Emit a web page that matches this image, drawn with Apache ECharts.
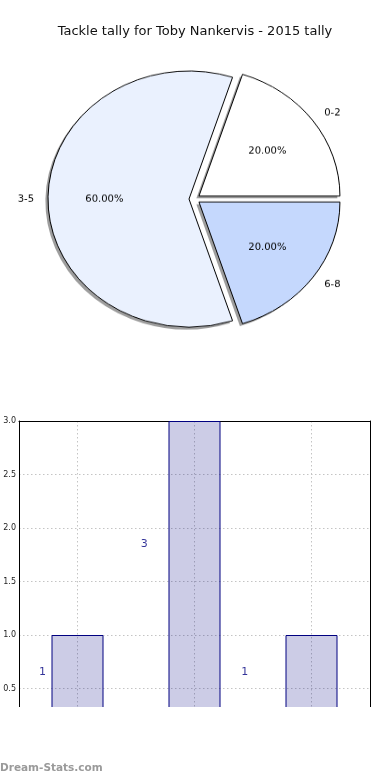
<!DOCTYPE html>
<html><head><meta charset="utf-8">
<script src="https://cdn.jsdelivr.net/npm/echarts@6/dist/echarts.min.js"></script>
<style>
html,body{margin:0;padding:0;background:#fff;}
#wrap{position:relative;width:390px;height:780px;overflow:hidden;}
#barwrap{position:absolute;left:0;top:0;width:390px;height:707px;overflow:hidden;}
#main{position:absolute;left:0;top:0;width:390px;height:780px;}
#pie{position:absolute;left:0;top:0;width:390px;height:400px;transform:scaleY(0.908);transform-origin:195px 199px;}
#wm{position:absolute;left:0;top:750px;width:390px;height:30px;}
</style></head>
<body><div id="wrap"><div id="barwrap"><div id="main"></div></div><div id="pie"></div><div id="wm"></div></div>
<script>
const titleText = 'Tackle tally for Toby Nankervis - 2015 tally';
const categories = ['0-2', '3-5', '6-8'];
const counts = [1, 3, 1];
const pieColors = ['#ffffff', '#eaf1fe', '#c5d8fd'];
const yMin = 0, yMax = 3.0, yInterval = 0.5;
// positions (in data units) of the value labels beside the bars, as seen in the picture
const valueLabelX = [-0.30, 0.57, 1.43];
const valueLabelY = [0.65, 1.85, 0.65];
const watermark = 'Dream-Stats.com';

const FONT = 'DejaVu Sans';
const R = 141;
const CENTER = [194.5, 199];
const SHADOW = 2.6;

const pie = echarts.init(document.getElementById('pie'), null, {renderer: 'canvas'});
const common = {type: 'pie', center: CENTER, startAngle: 0, clockwise: false,
  selectedMode: 'multiple', selectedOffset: 5.5, animation: false, emphasis: {disabled: true}};
const ghost = (extra) => Object.assign({}, common, {
  silent: true,
  itemStyle: {color: 'transparent', borderWidth: 0},
  select: {itemStyle: {color: 'transparent', borderWidth: 0}},
  labelLine: {show: false}
}, extra);
pie.setOption({
  animation: false,
  series: [
    // drop shadow
    Object.assign({}, common, {
      center: [CENTER[0] - SHADOW, CENTER[1] + SHADOW], radius: R, silent: true, z: 1,
      itemStyle: {color: 'rgba(77,77,77,0.55)', borderWidth: 0},
      select: {itemStyle: {color: 'rgba(77,77,77,0.55)', borderWidth: 0}},
      label: {show: false}, labelLine: {show: false},
      data: categories.map((c, i) => ({name: c, value: counts[i], selected: true}))
    }),
    Object.assign({}, common, {
      radius: R, z: 2,
      itemStyle: {borderColor: '#000', borderWidth: 1},
      select: {itemStyle: {borderColor: '#000', borderWidth: 1}},
      label: {show: false}, labelLine: {show: false},
      data: categories.map((c, i) => ({name: c, value: counts[i], selected: true,
        itemStyle: {color: pieColors[i]}, select: {itemStyle: {color: pieColors[i]}}}))
    }),
    ghost({
      radius: (0.6 * R - 3) * 2, z: 3,
      label: {show: true, position: 'inside', fontFamily: FONT, fontSize: 10, color: '#000',
        formatter: p => p.percent.toFixed(2) + '%'},
      data: categories.map((c, i) => ({name: c, value: counts[i], selected: true}))
    }),
    ghost({
      radius: (1.1 * R - 3) * 2, z: 3,
      label: {show: true, position: 'inside', fontFamily: FONT, fontSize: 10, color: '#000',
        formatter: '{b}'},
      data: categories.map((c, i) => ({name: c, value: counts[i], selected: true,
        label: {padding: i === 1 ? [0, 16, 0, 0] : [0, 0, 0, 16]}}))
    })
  ]
});

const main = echarts.init(document.getElementById('main'), null, {renderer: 'canvas'});
const dotted = {color: '#c4c4c4', type: [1.5, 2.5], width: 1};
main.setOption({
  animation: false,
  title: {text: titleText, left: 'center', top: 20, textStyle: {fontFamily: FONT, fontSize: 13, fontWeight: 'normal', color: '#111'}},
  grid: {left: 19, right: 20, top: 421, bottom: 38},
  xAxis: [
    {type: 'category', data: categories, position: 'bottom',
      axisLine: {show: false}, axisTick: {show: false}, axisLabel: {show: false},
      splitLine: {show: true, alignWithLabel: true, lineStyle: dotted}},
    {type: 'value', min: -0.5, max: 2.5, position: 'top',
      axisLine: {show: true, onZero: false, lineStyle: {color: '#000', width: 1}},
      axisTick: {show: false}, axisLabel: {show: false}, splitLine: {show: false}}
  ],
  yAxis: [
    {type: 'value', min: yMin, max: yMax, interval: yInterval, position: 'left',
      axisLine: {show: true, onZero: false, lineStyle: {color: '#000', width: 1}},
      axisTick: {show: false},
      axisLabel: {showMinLabel: false, fontFamily: FONT, fontSize: 8, color: '#222', margin: 3,
        formatter: v => v.toFixed(1)},
      splitLine: {show: true, showMinLine: false, lineStyle: dotted}},
    {type: 'value', min: yMin, max: yMax, interval: yInterval, position: 'right',
      axisLine: {show: true, onZero: false, lineStyle: {color: '#000', width: 1}},
      axisTick: {show: false}, axisLabel: {show: false}, splitLine: {show: false}}
  ],
  series: [
    {type: 'bar', xAxisIndex: 0, yAxisIndex: 0, data: counts, barWidth: 52,
      itemStyle: {color: 'rgba(0,0,128,0.2)', borderColor: '#000080', borderWidth: 1},
      emphasis: {disabled: true}},
    {type: 'scatter', xAxisIndex: 1, yAxisIndex: 0, symbolSize: 0, silent: true,
      data: valueLabelX.map((x, i) => [x, valueLabelY[i], counts[i]]),
      label: {show: true, position: 'inside', formatter: p => String(p.value[2]),
        fontFamily: FONT, fontSize: 11, color: '#000080'}}
  ]
});

const wm = echarts.init(document.getElementById('wm'), null, {renderer: 'canvas'});
wm.setOption({
  title: {text: watermark, left: 0, top: 13, padding: 0,
    textStyle: {fontFamily: FONT, fontSize: 10.5, fontWeight: 'bold', color: '#9a9a9a'}}
});
</script></body></html>
